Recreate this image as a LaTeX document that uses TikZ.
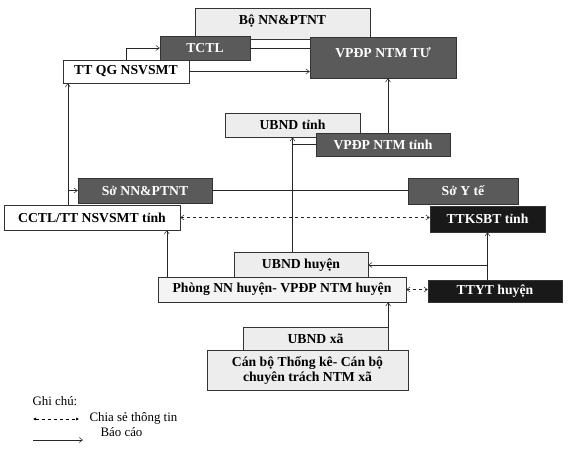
\documentclass[tikz,border=0pt]{standalone}
\usepackage{fontspec}
\setmainfont{Liberation Serif}
\usetikzlibrary{arrows.meta,positioning}
\definecolor{paleorg}{HTML}{EDEDED}
\definecolor{darkorg}{HTML}{5A5A5A}

\begin{document}
\begin{tikzpicture}[x=1pt,y=-1pt,font=\fontsize{13.7}{15}\selectfont\bfseries,
  org/.style={draw=black!80,fill=paleorg,rectangle,inner sep=0pt,align=center},
  whiteorg/.style={org,fill=white},
  darkorg/.style={org,fill=darkorg,text=white!92},
  blackorg/.style={org,fill=black!90,text=white!80},
  rep/.style={draw=black!85,line width=.5pt,-{Straight Barb[length=3.5pt,width=5pt]}},
  share/.style={draw=black!85,line width=.5pt,dashed,
    {Straight Barb[length=3.5pt,width=5pt]}-{Straight Barb[length=3.5pt,width=5pt]}},
  link/.style={draw=black!85,line width=.5pt},
  note/.style={font=\fontsize{12.9}{14}\selectfont,anchor=west}]
\useasboundingbox (0,0) rectangle (578,448);

% trung uong
\node[org,minimum width=175pt,minimum height=31pt,anchor=north] (bo) at (282.5,8) {\raisebox{9pt}{Bộ NN\&PTNT}};
\node[darkorg,minimum width=90pt,minimum height=24pt] (tctl) at (205,48) {TCTL};
\node[darkorg,minimum width=146pt,minimum height=41pt] (vptu) at (383,57.5) {\raisebox{10pt}{VPĐP NTM TƯ}};
\node[whiteorg,minimum width=126pt,minimum height=23pt] (ttqg) at (126,71.5) {TT QG NSVSMT};

% tinh
\node[org,minimum width=135pt,minimum height=24pt] (ubtinh) at (292.5,125) {UBND tỉnh};
\node[darkorg,minimum width=134pt,minimum height=23pt] (vptinh) at (383,144.5) {VPĐP NTM tỉnh};
\node[darkorg,minimum width=134pt,minimum height=25pt] (songn) at (145,190.5) {Sở NN\&PTNT};
\node[darkorg,minimum width=110pt,minimum height=26pt] (soyte) at (463,191) {Sở Y tế};
\node[whiteorg,minimum width=176pt,minimum height=25pt] (cctl) at (92,217.5) {CCTL/TT NSVSMT tỉnh};
\node[blackorg,minimum width=115pt,minimum height=26pt] (ttksbt) at (487.5,219) {TTKSBT tỉnh};

% huyen, xa
\node[org,minimum width=134pt,minimum height=26pt] (ubhuyen) at (301,265) {UBND huyện};
\node[org,fill=paleorg!60,minimum width=248pt,minimum height=25pt] (phong) at (282,289.5) {Phòng NN huyện- VPĐP NTM huyện};
\node[blackorg,minimum width=134pt,minimum height=22pt] (ttyt) at (495,291) {TTYT huyện};
\node[org,minimum width=145pt,minimum height=23pt] (ubxa) at (315.5,338.5) {UBND xã};
\node[org,minimum width=201pt,minimum height=40pt] (canbo) at (307.5,370) {Cán bộ Thống kê- Cán bộ\\chuyên trách NTM xã};

\draw[rep] (ttqg.north) |- (tctl.west);
\draw[rep] (ttqg.east) -- (ttqg.east -| vptu.west);
\draw[link] (tctl.east) -- (tctl.east -| vptu.west);
\draw[rep] ([xshift=64pt]cctl.north west) -- ([xshift=64pt]cctl.north west |- ttqg.south);
\draw[rep] ([xshift=64pt]cctl.north west |- songn.west) -- (songn.west);
\draw[link] (songn.east) -- (songn.east -| soyte.west);
\draw[share] (cctl.east) -- (cctl.east -| ttksbt.west);
\draw[rep] ([xshift=9pt]phong.north west) -- ([xshift=9pt]phong.north west |- cctl.south);
\draw[rep] (ubtinh.south |- ubhuyen.north) -- (ubtinh.south);
\draw[link] (vptinh.west) -- (vptinh.west -| ubtinh.south);
\draw[rep] ([xshift=5pt]vptinh.north) -- ([xshift=5pt]vptu.south);
\draw[rep] (ttksbt.south |- ttyt.north) -- (ttksbt.south);
\draw[rep] (ttksbt.south |- ubhuyen.east) -- (ubhuyen.east);
\draw[share] (phong.east) -- (phong.east -| ttyt.west);
\draw[rep] (ubxa.north east) -- (ubxa.north east |- phong.south);

% ghi chu
\node[note] (ghichu) at (29,401) {Ghi chú:};
\coordinate (sa) at (33,419); \coordinate (sb) at (79,419);
\draw[line width=.5pt,dashed,{Latex[length=3pt,width=3pt]}-{Latex[length=3pt,width=3pt]}] (sa) -- (sb);
\node[note] (chiase) at (86,418) {Chia sẻ thông tin};
\coordinate (ra) at (33,440); \coordinate (rb) at (83,440);
\draw[rep] (ra) -- (rb);
\node[note] (baocao) at (97,432) {Báo cáo};
\end{tikzpicture}
\end{document}
